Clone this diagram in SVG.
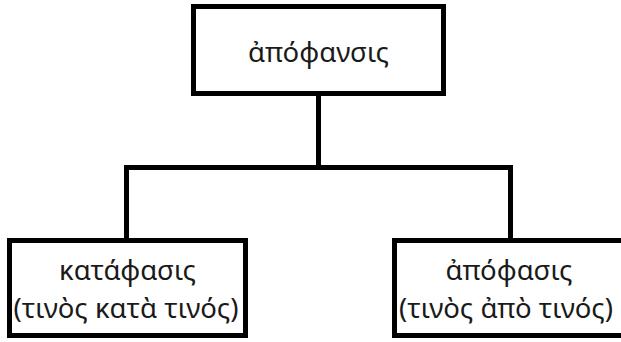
<svg xmlns="http://www.w3.org/2000/svg" width="621" height="342" viewBox="0 0 621 342">
<style>
.box{fill:#fff;stroke:#000;stroke-width:5}
.conn{fill:none;stroke:#000;stroke-width:5;stroke-linejoin:miter}
text{font-family:"Noto Sans","Open Sans","DejaVu Sans",sans-serif;font-size:27.5px;fill:#1a1a1a;text-anchor:middle}
</style>
<rect width="621" height="342" fill="#fff"/>
<g id="connectors">
<path class="conn" d="M318.5 93.5 V167.5"/>
<path class="conn" d="M126.5 240.5 V167.5 H510.5 V240.5"/>
</g>
<g id="node-apophansis">
<rect class="box" x="193.5" y="6.5" width="250" height="87"/>
<text x="318.5" y="62">ἀπόφανσις</text>
</g>
<g id="node-kataphasis">
<rect class="box" x="9.5" y="240.5" width="236" height="95"/>
<text x="127.5" y="280">κατάφασις</text>
<text x="126" y="318">(τινὸς κατὰ τινός)</text>
</g>
<g id="node-apophasis">
<rect class="box" x="394.5" y="240.5" width="232" height="95"/>
<text x="509" y="280">ἀπόφασις</text>
<text x="506" y="318">(τινὸς ἀπὸ τινός)</text>
</g>
</svg>
